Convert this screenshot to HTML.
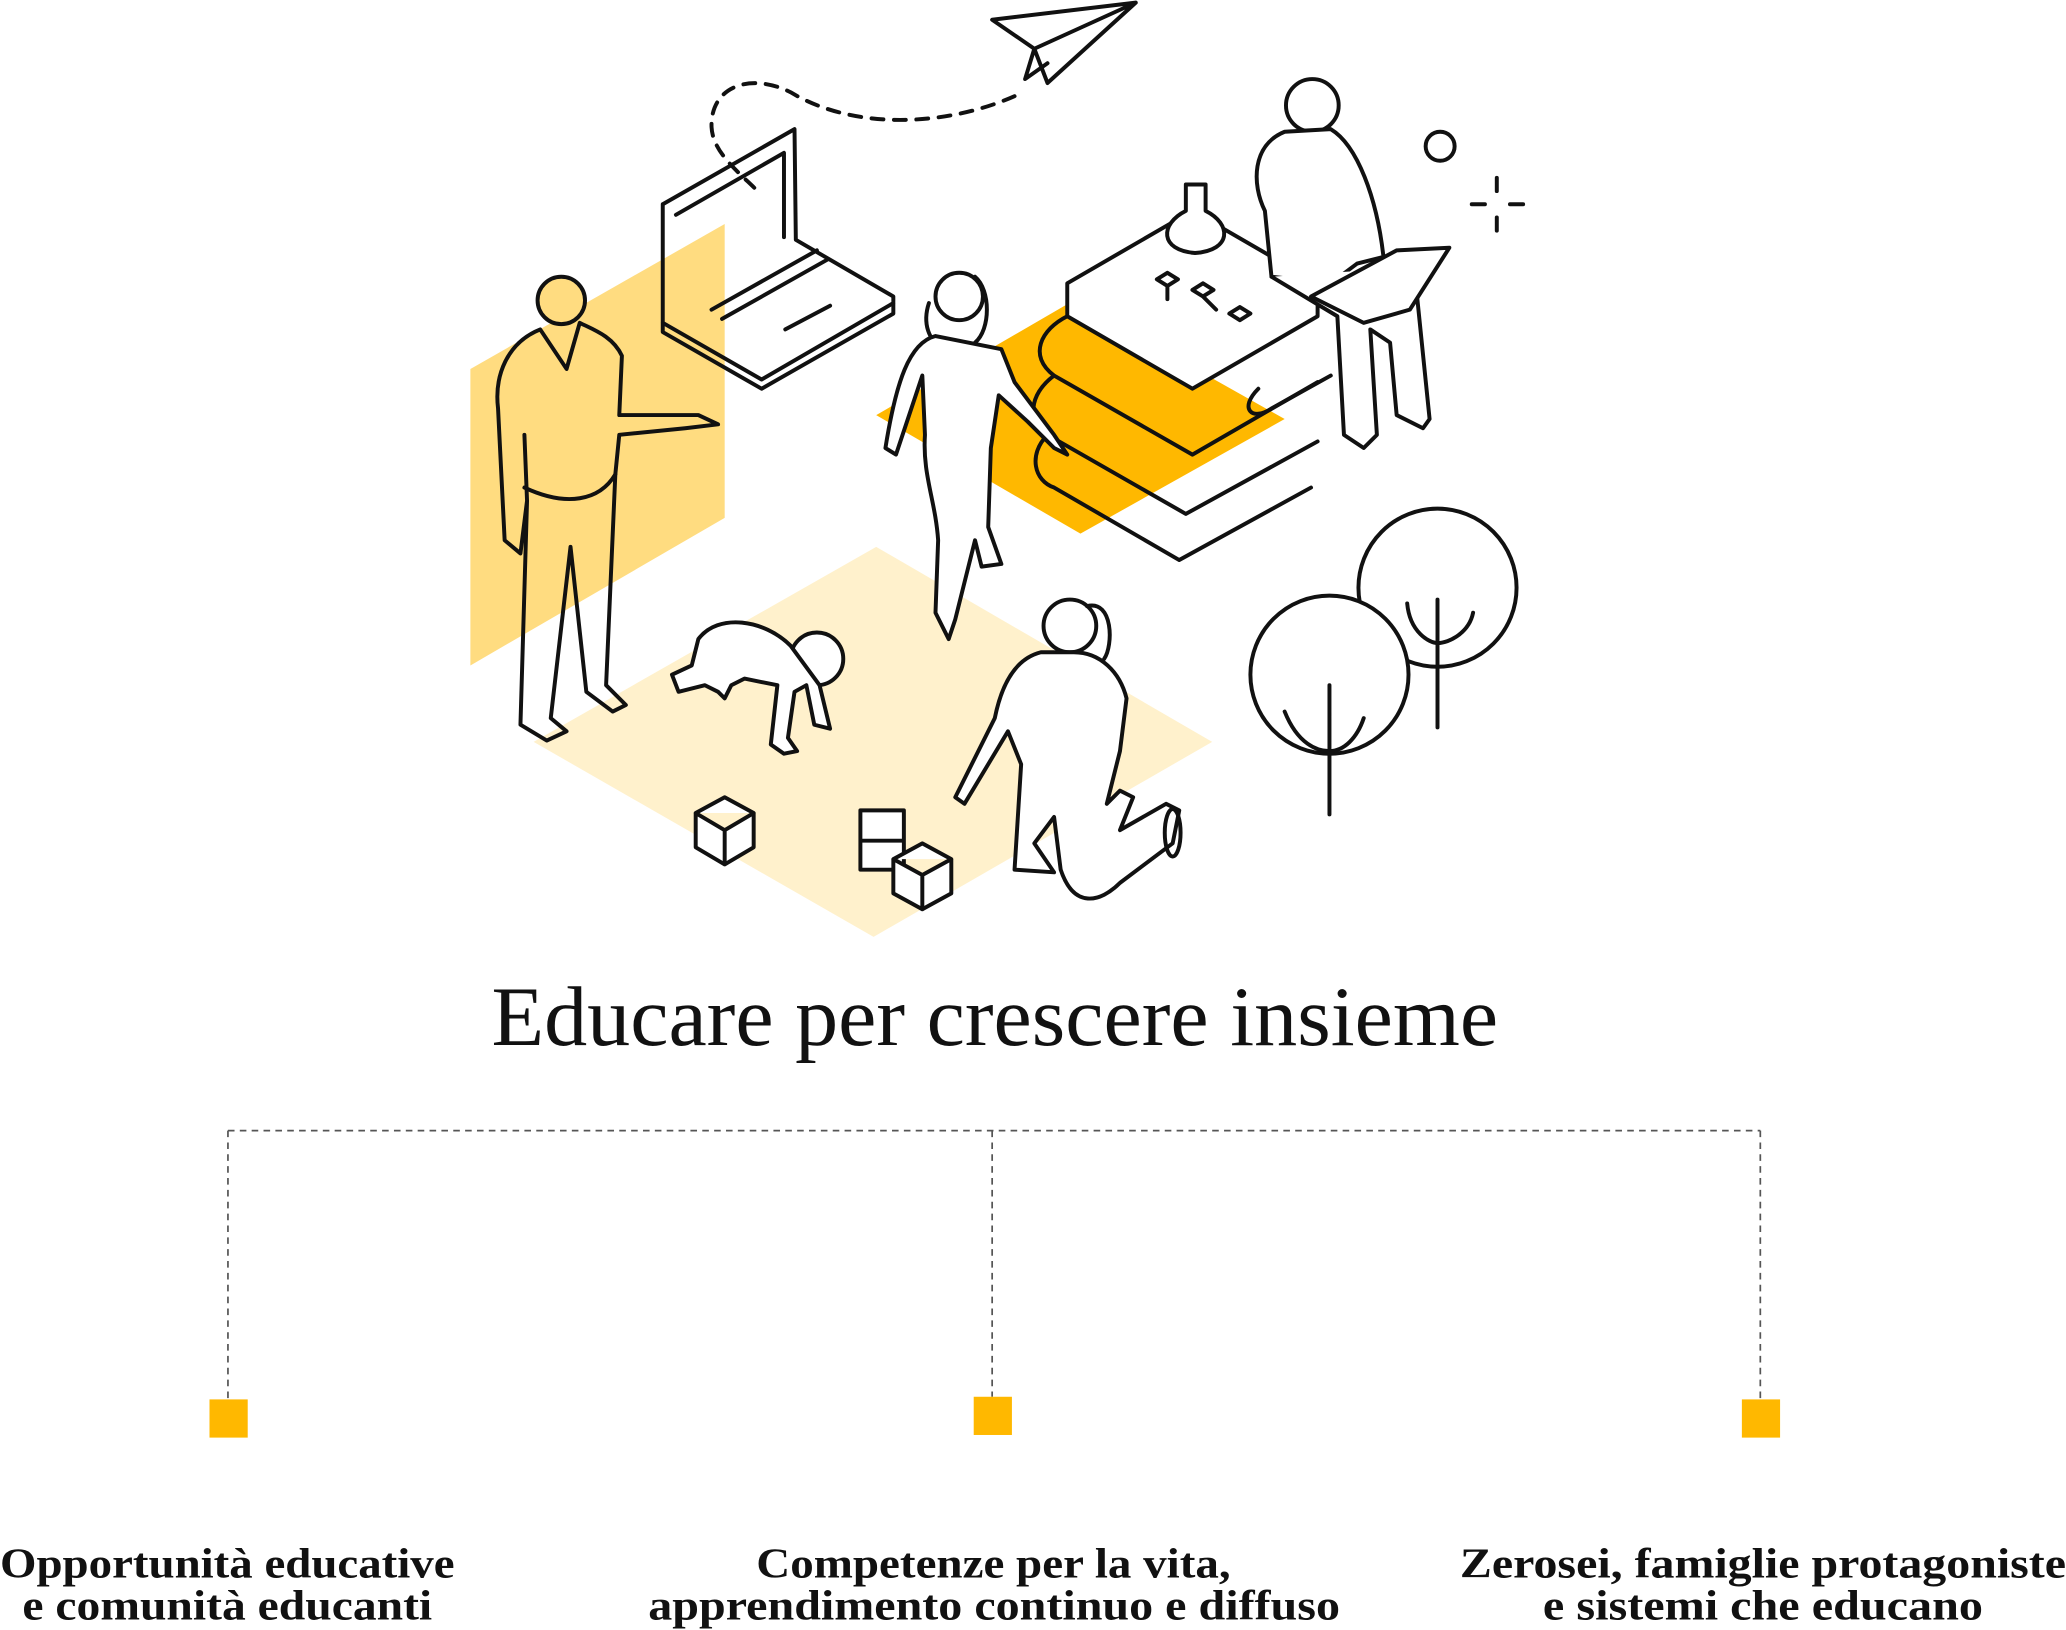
<!DOCTYPE html>
<html><head><meta charset="utf-8"><style>
html,body{margin:0;padding:0;background:#fff;}
svg{display:block;}
</style></head><body>
<svg width="2066" height="1630" viewBox="0 0 1568 1237" preserveAspectRatio="none" xmlns="http://www.w3.org/2000/svg">
<polygon points="665,415 920,563 663,711 405,563" fill="#FFF1CC"/>
<polygon points="357,280 550,170 550,393 357,505" fill="#FFDC80"/>
<polygon points="665,315 815,228 975,318 820,405" fill="#FFB800"/>
<g fill="none" stroke="#111" stroke-width="3" stroke-linecap="round" stroke-linejoin="round">
<path d="M753,15 L862,2 L795,63 L785,37 Z M785,37 L862,2 M785,37 L778,60 L795,48"/>
<path d="M770,73 C720,95 650,100 600,70 C570,55 540,65 540,95 C540,115 560,130 575,145" stroke-dasharray="9,8"/>
<circle cx="1093" cy="111" r="11"/>
<path d="M1136,135 v10 M1136,165 v10 M1117,155 h10 M1146,155 h10"/>
<path d="M503,155 L603,98 L604,182 L678,225 L678,238 L578,295 L503,252 Z M503,155 L503,245 M513,163 L595,116 L595,180 M503,245 L578,288 L678,230 M540,235 L620,190 M548,242 L628,197 M596,250 L630,232"/>
<path fill="#fff" d="M810,215 L905,160 L1000,215 L1000,240 L905,295 L810,240 Z"/>
<path d="M810,240 C790,250 780,270 800,285 L905,345 L1000,290 M800,285 C780,300 780,320 795,330 L900,390 L1000,335 M795,330 C780,345 785,365 800,370 L895,425 L995,370"/>
<path d="M955,295 C940,310 950,320 965,310 L1010,285"/>
<path fill="#fff" d="M900,140 L915,140 L915,160 C935,170 935,190 907,192 C880,190 880,170 900,160 Z"/>
<path d="M878,212 l8,-5 8,5 -8,5z M905,220 l8,-5 8,5 -8,5z M933,238 l8,-5 8,5 -8,5z M886,217 v10 M913,225 l10,10"/>
<circle cx="996" cy="80" r="20" fill="#fff"/>
<path fill="#fff" d="M975,100 C950,110 950,140 960,160 L965,210 L1010,215 L1030,200 L1050,195 C1045,150 1030,110 1010,98 Z"/>
<path fill="#fff" d="M965,210 L1015,240 L1020,330 L1035,340 L1045,330 L1040,250 L1055,260 L1060,315 L1080,325 L1085,318 L1075,220 L1040,205"/>
<path fill="#fff" d="M995,225 L1060,190 L1100,188 L1070,235 L1035,245 Z"/>
<circle cx="426" cy="228" r="18" fill="#FFDC80"/>
<path d="M410,250 C385,260 375,285 378,310 L383,410 L395,420 L400,380 L398,330 L400,380 L395,550 L415,562 L430,555 L418,545 L433,415 L445,525 L465,540 L475,535 L460,520 L467,360 L470,330 L520,325 L545,322 L530,315 L470,315 L472,270 C465,255 450,250 440,245 L430,280 Z"/>
<path d="M398,370 C430,385 455,380 467,360"/>
<circle cx="728" cy="225" r="18" fill="#fff"/>
<path d="M705,230 C700,245 705,260 715,262 M740,210 C752,220 752,250 740,260"/>
<path fill="#fff" d="M710,255 C690,260 680,290 672,340 L680,345 L700,285 L702,330 C700,360 710,380 712,410 L710,465 L720,485 L725,470 L740,410 L745,430 L760,428 L750,400 L752,340 L758,300 L780,320 L800,340 L810,345 L800,330 L770,290 L760,265 Z"/>
<circle cx="620" cy="500" r="20" fill="#fff"/>
<path fill="#fff" d="M600,490 C580,470 545,465 530,485 L525,505 L510,512 L515,525 L535,520 L545,525 L550,530 L555,520 L565,515 L590,520 L585,565 L595,572 L605,570 L598,560 L603,525 L612,520 L618,550 L630,553 L622,520 Z"/>
<circle cx="812" cy="475" r="20" fill="#fff"/>
<path d="M825,460 C845,455 845,490 838,500"/>
<path fill="#fff" d="M790,495 C770,500 760,520 755,545 L725,605 L732,610 L765,555 L775,580 L770,660 L800,662 L785,640 L800,620 L805,660 C815,690 835,685 850,670 L890,640 L895,615 L885,610 L850,630 L860,605 L850,600 L840,610 L850,570 L855,530 C850,510 835,495 815,495 Z"/>
<ellipse cx="890" cy="632" rx="6" ry="18"/>
<path fill="#fff" d="M528,617 L550,605 L572,617 L572,643 L550,656 L528,643 Z M528,617 L550,630 L572,617 M550,630 L550,656"/>
<path fill="#fff" d="M653,615 L686,615 L686,660 L653,660 Z M653,638 L686,638"/>
<path fill="#fff" d="M678,652 L700,640 L722,652 L722,678 L700,690 L678,678 Z M678,652 L700,664 L722,652 M700,664 L700,690"/>
<circle cx="1091" cy="446" r="60" fill="#fff"/>
<path d="M1091,455 V552 M1068,458 C1070,480 1085,488 1091,488 C1100,488 1115,480 1118,465"/>
<circle cx="1009" cy="512" r="60" fill="#fff"/>
<path d="M1009,520 V618 M975,540 C985,565 1000,570 1009,570 C1020,570 1030,560 1035,545"/>
</g>
<text x="373" y="793" textLength="764" lengthAdjust="spacingAndGlyphs" font-family="Liberation Serif, serif" font-size="64" fill="#111">Educare per crescere insieme</text>
<g fill="none" stroke="#555" stroke-width="1.3" stroke-dasharray="5,4">
<path d="M173,858 H1336 M173,858 V1062 M753,858 V1060 M1336,858 V1062"/>
</g>
<rect x="159" y="1062" width="29" height="29" fill="#FFB800"/>
<rect x="739" y="1060" width="29" height="29" fill="#FFB800"/>
<rect x="1322" y="1062" width="29" height="29" fill="#FFB800"/>
<g font-family="Liberation Serif, serif" font-weight="bold" font-size="32" fill="#111" lengthAdjust="spacingAndGlyphs">
<text x="0" y="1197" textLength="345" lengthAdjust="spacingAndGlyphs">Opportunità educative</text>
<text x="17" y="1229" textLength="311" lengthAdjust="spacingAndGlyphs">e comunità educanti</text>
<text x="574" y="1197" textLength="360" lengthAdjust="spacingAndGlyphs">Competenze per la vita,</text>
<text x="492" y="1229" textLength="525" lengthAdjust="spacingAndGlyphs">apprendimento continuo e diffuso</text>
<text x="1108" y="1197" textLength="460" lengthAdjust="spacingAndGlyphs">Zerosei, famiglie protagoniste</text>
<text x="1171" y="1229" textLength="334" lengthAdjust="spacingAndGlyphs">e sistemi che educano</text>
</g>
</svg>
</body></html>
